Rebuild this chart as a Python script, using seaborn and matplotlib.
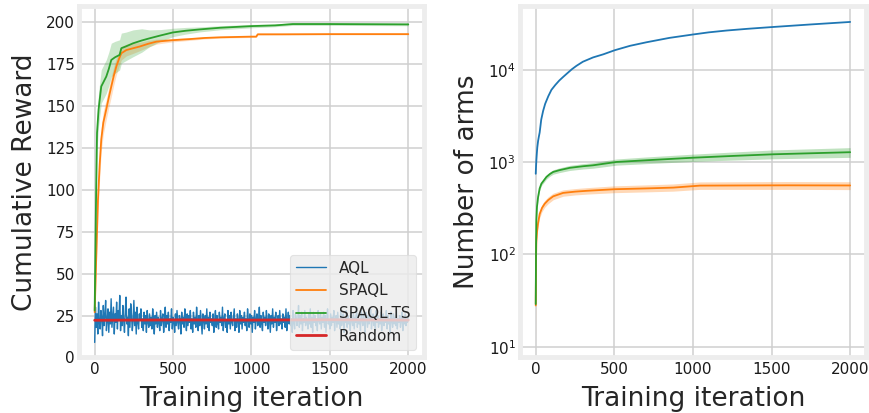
import numpy as np
import pandas as pd
import matplotlib
matplotlib.use("Agg")
import matplotlib.pyplot as plt
import seaborn as sns

# ---------------- data ----------------
# Left panel: cumulative reward
aql_x = list(range(0, 2001, 5))
aql_reward = [9,
    30, 18, 26, 14, 33, 21, 17, 28, 24, 13, 31, 19, 25, 34, 16, 22, 29, 15, 27, 20,
    35, 18, 24, 30, 14, 26, 21, 33, 17, 28, 23, 37, 16, 25, 19, 31, 22, 15, 27, 36,
    20, 24, 13, 29, 18, 32, 25, 16, 22, 34, 19, 27, 14, 30, 21, 17, 26, 23, 29, 18,
    23, 16, 27, 20, 25, 15, 28, 21, 18, 26,
    19, 24, 17, 29, 22, 14, 25, 20, 27, 18,
    24, 21, 16, 28, 19, 23, 26, 15, 22, 30,
    18, 25, 20, 27, 16, 23, 21, 29, 17, 24,
    22, 15, 26, 19, 28, 21, 17, 25, 23, 14,
    27, 20, 24, 18, 29, 22, 16, 26, 19, 25,
    21, 28, 17, 23, 15, 27, 20, 24, 18, 30,
    22, 16, 25, 19, 28, 21, 14, 26, 23, 17,
    25, 20, 29, 18, 24, 16, 27, 21, 23, 19,
    26, 15, 22, 28, 18, 25, 20, 17, 27, 21,
    24, 19, 30, 16, 23, 26, 18, 22, 15, 28,
    20, 25, 17, 27, 21, 19, 24, 29, 16, 23,
    18, 26, 22, 15, 28, 20, 25, 17, 24, 21,
    27, 19, 23, 16, 29, 22, 18, 26, 20, 25,
    15, 24, 21, 28, 17, 23, 26, 19, 22, 30,
    18, 25, 20, 16, 27, 21, 24, 19, 28, 22,
    17, 26, 23, 15, 25, 20, 29, 18, 24, 21,
    27, 16, 22, 25, 19, 28, 20, 23, 17, 26,
    21, 24, 18, 29, 16, 22, 27, 20, 25, 19,
    23, 15, 28, 21, 17, 26, 24, 19, 22, 31,
    18, 25, 20, 27, 16, 23, 21, 28, 19, 24,
    22, 17, 26, 20, 29, 18, 24, 15, 27, 21,
    25, 19, 23, 16, 28, 22, 20, 26, 17, 24,
    21, 27, 18, 25, 15, 23, 29, 20, 22, 17,
    26, 19, 24, 21, 28, 16, 23, 25, 18, 27,
    20, 22, 17, 29, 19, 24, 26, 15, 23, 21,
    28, 18, 25, 20, 23, 16, 27, 22, 19, 26,
    17, 24, 21, 30, 18, 25, 20, 23, 16, 28,
    22, 19, 26, 21, 15, 27, 24, 18, 25, 20,
    23, 29, 17, 22, 26, 19, 24, 16, 28, 21,
    25, 18, 23, 20, 27, 16, 22, 26, 19, 24,
    21, 28, 17, 25, 20, 23, 15, 27, 22, 18,
    26, 20, 24, 19, 29, 17, 23, 21, 25, 18,
    22, 27, 16, 24, 20, 26, 19, 23, 21, 25]

spaql_x = [0, 10, 21, 32, 42, 55, 74, 90, 106, 122, 138, 155, 170, 202, 250, 287,
           340, 393, 450, 499, 600, 700, 800, 900, 1000, 1030, 1040, 1200, 1500, 1800, 2000]
spaql_reward = [27, 60, 94, 115, 130, 140, 148, 155, 161.6, 168, 173.5, 178, 181.4, 183.3,
                184.5, 185.4, 187, 188.3, 188.8, 189.2, 189.8, 190.5, 190.9, 191.1, 191.3,
                191.3, 192.7, 192.7, 192.8, 192.8, 192.8]
spaql_spread = [2, 8, 8, 8, 7, 7, 6, 6, 6, 5.5, 5, 4.5, 4, 3.5, 3, 2.5, 2, 1.5, 1.2, 1,
                0.8, 0.6, 0.5, 0.5, 0.5, 0.5, 0.5, 0.4, 0.4, 0.4, 0.4]

ts_x = [0, 8, 15, 25, 32, 42, 55, 74, 90, 106, 130, 159, 170, 200, 244, 300, 350, 420,
        499, 580, 669, 800, 1008, 1150, 1263, 1500, 2000]
ts_reward = [28, 90, 134, 148, 153.7, 161.6, 164, 167.5, 172, 177.4, 179, 180.4, 184.4,
             185.5, 187.3, 189, 190.3, 192, 193.8, 194.8, 195.6, 196.6, 197.6, 198,
             198.8, 198.8, 198.6]
ts_spread = [3, 8, 10, 10, 10, 10, 10, 10, 10, 10, 9.5, 9, 9, 8.5, 8, 7, 5, 3.5, 2.5, 2,
             1.5, 1.2, 1, 0.8, 0.8, 0.8, 0.8]

random_x = [0, 500, 1000, 1500, 2000]
random_reward = [22.2, 22.4, 22.3, 22.5, 22.3]

# Right panel: number of arms
aql_arms_x = [0, 2, 4, 7, 10, 15, 20, 25, 35, 47, 60, 80, 100, 125, 150, 174, 200, 230,
              259, 300, 365, 430, 503, 600, 705, 850, 1002, 1100, 1214, 1350, 1500, 1750, 2000]
aql_arms = [750, 900, 1050, 1250, 1450, 1700, 1900, 2100, 2900, 3600, 4300, 5200, 6100,
            6900, 7700, 8400, 9200, 10200, 11100, 12300, 13700, 14800, 16400, 18300, 20000,
            22300, 24300, 25600, 26800, 28000, 29200, 31200, 33200]

ts_arms_x = [0, 2, 4, 8, 15, 25, 36, 50, 68, 90, 111, 150, 217, 300, 365, 514, 700,
             1002, 1250, 1512, 2000]
ts_arms = [29, 120, 234, 330, 420, 520, 586, 630, 693, 745, 785, 820, 870, 905, 927,
           1007, 1050, 1120, 1170, 1220, 1285]
ts_arms_lo = [24, 112, 222, 312, 398, 494, 556, 598, 656, 705, 742, 772, 815, 845, 862,
              930, 965, 1020, 1055, 1090, 1130]
ts_arms_hi = [33, 128, 246, 348, 442, 546, 616, 662, 730, 785, 828, 868, 925, 965, 992,
              1085, 1140, 1225, 1290, 1360, 1440]

spaql_arms_x = [0, 2, 4, 9, 15, 25, 40, 57, 80, 111, 174, 250, 323, 503, 700, 875, 1045,
                1300, 1600, 2000]
spaql_arms = [28, 90, 140, 182, 220, 275, 320, 355, 390, 427, 465, 480, 490, 510, 520,
              531, 558, 560, 562, 560]
spaql_arms_lo = [11, 80, 126, 165, 200, 250, 292, 325, 357, 392, 428, 442, 451, 468, 477,
                 486, 508, 508, 508, 505]
spaql_arms_hi = [30, 100, 154, 199, 240, 300, 348, 385, 423, 462, 502, 518, 530, 555, 568,
                 582, 612, 615, 618, 615]

labels = ["AQL", "SPAQL", "SPAQL-TS", "Random"]
colors = sns.color_palette("tab10")

# ---------------- style ----------------
sns.set_style("whitegrid")
plt.rcParams["font.family"] = ["DejaVu Sans"]

fig = plt.figure(figsize=(8.69, 4.13), dpi=100)
ax1 = fig.add_axes([0.0909, 0.1344, 0.397, 0.850])
ax2 = fig.add_axes([0.5984, 0.1344, 0.398, 0.851])

for ax in (ax1, ax2):
    for sp in ax.spines.values():
        sp.set_color("#ededed")
        sp.set_linewidth(3.5)
    ax.grid(True, color="#cfcfcf", linewidth=1.1)
    ax.tick_params(axis="both", length=0, labelsize=11, pad=3, colors="#1a1a1a")
    ax.set_axisbelow(True)

lw = 1.3

# ---- left panel ----
sns.lineplot(x=aql_x, y=aql_reward, ax=ax1, color=colors[0], lw=1.0, label=labels[0])
sns.lineplot(x=spaql_x, y=spaql_reward, ax=ax1, color=colors[1], lw=lw, label=labels[1])
ax1.fill_between(spaql_x, np.array(spaql_reward) - np.array(spaql_spread),
                 np.array(spaql_reward) + np.array(spaql_spread),
                 color=colors[1], alpha=0.25, lw=0)
sns.lineplot(x=ts_x, y=ts_reward, ax=ax1, color=colors[2], lw=lw, label=labels[2])
ax1.fill_between(ts_x, np.array(ts_reward) - np.array(ts_spread),
                 np.array(ts_reward) + np.array(ts_spread),
                 color=colors[2], alpha=0.25, lw=0)
sns.lineplot(x=random_x, y=random_reward, ax=ax1, color=colors[3], lw=2.0, label=labels[3])

ax1.set_xlim(-100, 2100)
ax1.set_ylim(0, 209.3)
ax1.set_xticks([0, 500, 1000, 1500, 2000])
ax1.set_yticks([0, 25, 50, 75, 100, 125, 150, 175, 200])
ax1.set_xlabel("Training iteration", fontsize=19, labelpad=7)
ax1.set_ylabel("Cumulative Reward", fontsize=19, labelpad=6)
leg = ax1.legend(loc="lower right", fontsize=11, frameon=True, facecolor="#ececec",
                 edgecolor="#dddddd", framealpha=0.8, borderaxespad=0.5)
leg.get_frame().set_linewidth(0.8)

# ---- right panel ----
sns.lineplot(x=aql_arms_x, y=aql_arms, ax=ax2, color=colors[0], lw=lw)
sns.lineplot(x=spaql_arms_x, y=spaql_arms, ax=ax2, color=colors[1], lw=lw)
ax2.fill_between(spaql_arms_x, spaql_arms_lo, spaql_arms_hi, color=colors[1], alpha=0.3, lw=0)
sns.lineplot(x=ts_arms_x, y=ts_arms, ax=ax2, color=colors[2], lw=lw)
ax2.fill_between(ts_arms_x, ts_arms_lo, ts_arms_hi, color=colors[2], alpha=0.3, lw=0)

ax2.set_yscale("log")
ax2.set_xlim(-100, 2100)
ax2.set_ylim(7.64, 49400)
ax2.set_xticks([0, 500, 1000, 1500, 2000])
ax2.set_yticks([10, 100, 1000, 10000])
ax2.yaxis.set_minor_locator(matplotlib.ticker.NullLocator())
ax2.set_xlabel("Training iteration", fontsize=19, labelpad=7)
ax2.set_ylabel("Number of arms", fontsize=19, labelpad=6)

fig.savefig("out.png", dpi=100)
